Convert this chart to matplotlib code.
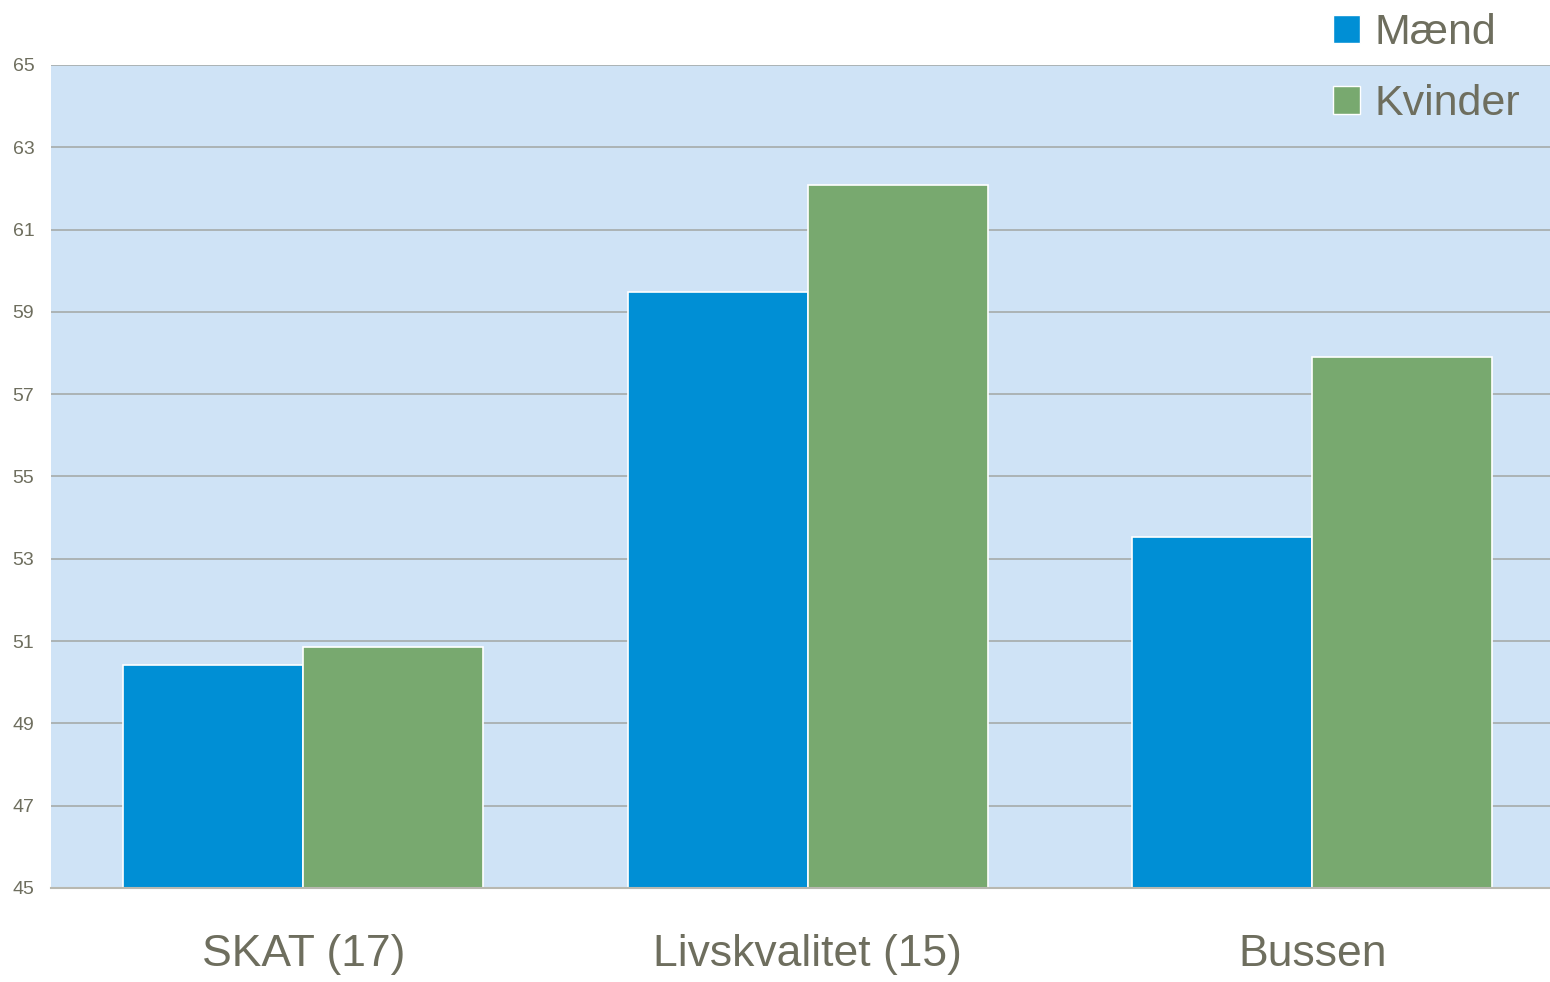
import matplotlib
matplotlib.use('Agg')
import matplotlib.pyplot as plt
import numpy as np
from matplotlib.patches import Patch

categories = ['SKAT (17)', 'Livskvalitet (15)', 'Bussen']
maend = [50.42, 59.48, 53.53]
kvinder = [50.86, 62.08, 57.9]
series_names = ['Mænd', 'Kvinder']
yticks = [45, 47, 49, 51, 53, 55, 57, 59, 61, 63, 65]

plt.rcParams['font.family'] = ['Liberation Sans Narrow', 'Liberation Sans', 'DejaVu Sans']
text_color = '#6e6e5e'
blue = '#008fd5'
green = '#78a96f'

fig = plt.figure(figsize=(15.5, 9.82), dpi=100)
ax = fig.add_axes([51 / 1550, 94 / 982, 1513.5 / 1550, 823 / 982])
ax.set_facecolor('#cfe3f6')

x = np.arange(len(categories))
w = 0.357
ax.bar(x - w / 2, maend, w, color=blue, edgecolor='white', linewidth=1.2, zorder=3)
ax.bar(x + w / 2, kvinder, w, color=green, edgecolor='white', linewidth=1.2, zorder=3)

ax.set_xlim(-0.5, 2.5)
ax.set_ylim(45, 65)
ax.set_yticks(yticks)
ax.yaxis.grid(True, color='#a9b0b0', linewidth=1.3, zorder=1)
ax.set_axisbelow(True)
for s in ['left', 'right', 'top']:
    ax.spines[s].set_visible(False)
ax.spines['bottom'].set_color('#b8b8b0')
ax.spines['bottom'].set_linewidth(1.5)
ax.spines['bottom'].set_zorder(4)

ax.set_xticks(x)
ax.set_xticklabels(categories, fontsize=32, color=text_color)
ax.tick_params(axis='x', length=0, pad=33)
ax.tick_params(axis='y', length=0, pad=12, labelsize=14, labelcolor=text_color)
for lab in ax.get_yticklabels():
    lab.set_verticalalignment('center_baseline')

handles = [Patch(facecolor=blue, edgecolor='white', linewidth=1), Patch(facecolor=green, edgecolor='white', linewidth=1)]
leg = fig.legend(handles, series_names, loc='upper left', bbox_to_anchor=(1333 / 1550, 1.0 - 13 / 982),
                 frameon=False, fontsize=31, handlelength=0.63, handleheight=0.63,
                 handletextpad=0.33, labelspacing=0.72, borderpad=0, borderaxespad=0,
                 labelcolor=text_color)

fig.savefig('out.png', dpi=100)
